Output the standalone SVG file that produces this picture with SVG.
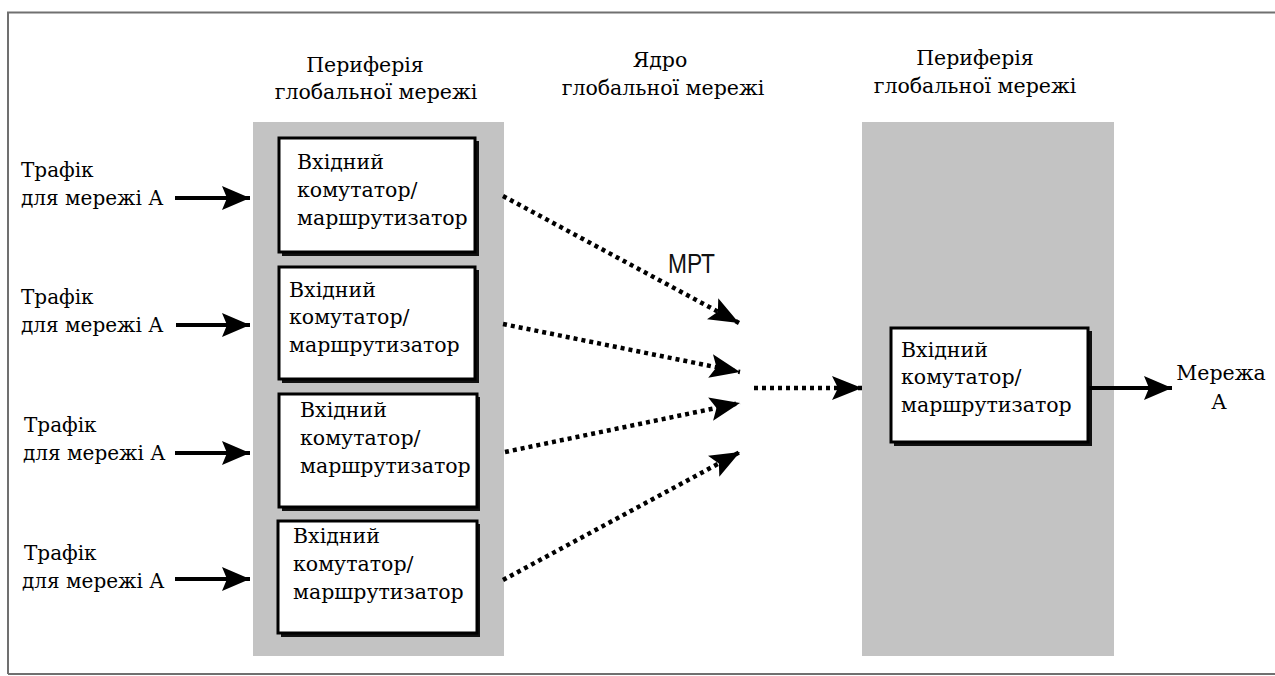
<svg xmlns="http://www.w3.org/2000/svg" width="1275" height="676" viewBox="0 0 1275 676">
  <style>
    .serif { font-family: "DejaVu Serif", "Liberation Serif", serif; font-size: 20px; fill: #000; }
    .boxtxt { font-family: "DejaVu Serif", "Liberation Serif", serif; font-size: 20.5px; fill: #000; }
    .hdr { font-family: "DejaVu Serif", "Liberation Serif", serif; font-size: 20.5px; fill: #000; text-anchor: middle; }
    .panel { fill: #c3c3c3; }
    .box { fill: #fff; stroke: #000; stroke-width: 3; }
    .shadow { fill: #111; }
    .solid { stroke: #000; stroke-width: 4; fill: none; }
    .dotted { stroke: #000; stroke-width: 4.5; fill: none; stroke-dasharray: 4 4; }
    .mpt { font-family: "Liberation Sans", Arial, sans-serif; font-size: 28px; fill: #111; }
  </style>
  <defs>
    <marker id="head" viewBox="0 0 28 24" refX="28" refY="12" markerWidth="28" markerHeight="24" markerUnits="userSpaceOnUse" orient="auto">
      <path d="M0,0 L28,12 L0,24 L5,12 Z" fill="#000"/>
    </marker>
    <marker id="headDot" viewBox="0 0 30 24" refX="30" refY="12" markerWidth="30" markerHeight="24" markerUnits="userSpaceOnUse" orient="auto">
      <path d="M0,0 L30,12 L0,24 L6,12 Z" fill="#000"/>
    </marker>
  </defs>

  <rect width="1275" height="676" fill="#fff"/>
  <!-- outer frame -->
  <path d="M8,674 L8,12.5 L1275,12.5 M8,674 L1275,674" stroke="#707070" stroke-width="2" fill="none"/>

  <!-- shaded edge regions -->
  <rect class="panel" x="253" y="122" width="251" height="534"/>
  <rect class="panel" x="862" y="122" width="252" height="534"/>

  <!-- headings -->
  <g id="hdr-left">
    <text class="hdr" x="365" y="72">Периферія</text>
    <text class="hdr" x="376" y="99">глобальної мережі</text>
  </g>
  <g id="hdr-core">
    <text class="hdr" x="660" y="67">Ядро</text>
    <text class="hdr" x="663" y="95">глобальної мережі</text>
  </g>
  <g id="hdr-right">
    <text class="hdr" x="975" y="65">Периферія</text>
    <text class="hdr" x="975" y="93">глобальної мережі</text>
  </g>

  <!-- traffic sources -->
  <g id="src1"><text class="serif" x="21" y="177">Трафік</text><text class="serif" x="21" y="205">для мережі А</text></g>
  <g id="src2"><text class="serif" x="21" y="304">Трафік</text><text class="serif" x="21" y="332">для мережі А</text></g>
  <g id="src3"><text class="serif" x="24" y="432">Трафік</text><text class="serif" x="23" y="460">для мережі А</text></g>
  <g id="src4"><text class="serif" x="24" y="560">Трафік</text><text class="serif" x="22" y="588">для мережі А</text></g>

  <!-- ingress switch/routers -->
  <g id="ingress1">
    <rect class="shadow" x="282" y="141" width="197" height="115"/>
    <rect class="box" x="279" y="138" width="196" height="114"/>
    <text class="boxtxt"><tspan x="297" y="169">Вхідний</tspan><tspan x="297" y="197">комутатор/</tspan><tspan x="297" y="225">маршрутизатор</tspan></text>
  </g>
  <g id="ingress2">
    <rect class="shadow" x="282" y="270" width="197" height="113"/>
    <rect class="box" x="279" y="267" width="196" height="112"/>
    <text class="boxtxt"><tspan x="289" y="297">Вхідний</tspan><tspan x="289" y="324">комутатор/</tspan><tspan x="289" y="352">маршрутизатор</tspan></text>
  </g>
  <g id="ingress3">
    <rect class="shadow" x="282" y="397" width="198" height="114"/>
    <rect class="box" x="279" y="394" width="198" height="113"/>
    <text class="boxtxt"><tspan x="300" y="417">Вхідний</tspan><tspan x="300" y="445">комутатор/</tspan><tspan x="300" y="473">маршрутизатор</tspan></text>
  </g>
  <g id="ingress4">
    <rect class="shadow" x="281" y="524" width="199" height="113"/>
    <rect class="box" x="278" y="521" width="199" height="112"/>
    <text class="boxtxt"><tspan x="293" y="543">Вхідний</tspan><tspan x="293" y="571">комутатор/</tspan><tspan x="293" y="599">маршрутизатор</tspan></text>
  </g>
  <g id="egress">
    <rect class="shadow" x="894" y="331" width="198" height="115"/>
    <rect class="box" x="891" y="328" width="197" height="114"/>
    <text class="boxtxt"><tspan x="901" y="357">Вхідний</tspan><tspan x="901" y="384">комутатор/</tspan><tspan x="901" y="412">маршрутизатор</tspan></text>
  </g>

  <g id="dest">
    <text class="hdr" x="1221" y="380">Мережа</text>
    <text class="hdr" x="1219" y="409">А</text>
  </g>

  <text id="mpt-label" class="mpt" x="668" y="273" textLength="47" lengthAdjust="spacingAndGlyphs">МРТ</text>

  <!-- connectors -->
  <g id="connectors">
    <line class="solid" x1="175" y1="198" x2="250" y2="198" marker-end="url(#head)"/>
    <line class="solid" x1="176" y1="325" x2="250" y2="325" marker-end="url(#head)"/>
    <line class="solid" x1="175" y1="453" x2="250" y2="453" marker-end="url(#head)"/>
    <line class="solid" x1="175" y1="579" x2="250" y2="579" marker-end="url(#head)"/>

    <line class="dotted" x1="503" y1="196" x2="739" y2="323" marker-end="url(#headDot)"/>
    <line class="dotted" x1="503" y1="324" x2="740" y2="372" marker-end="url(#headDot)"/>
    <line class="dotted" x1="505" y1="452" x2="740" y2="403" marker-end="url(#headDot)"/>
    <line class="dotted" x1="503" y1="580" x2="740" y2="452" marker-end="url(#headDot)"/>
    <line class="dotted" x1="754" y1="388" x2="862" y2="388" marker-end="url(#headDot)"/>

    <line class="solid" x1="1088" y1="388" x2="1172" y2="388" marker-end="url(#head)"/>
  </g>
</svg>
